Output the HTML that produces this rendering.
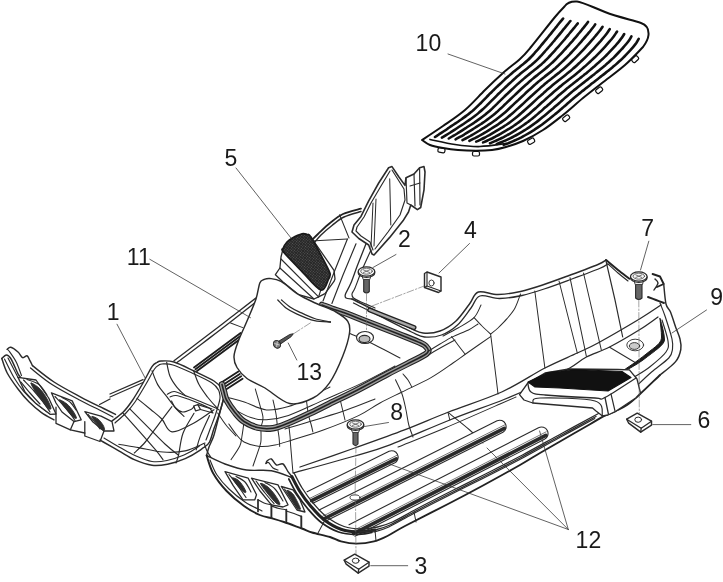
<!DOCTYPE html>
<html><head><meta charset="utf-8"><title>Parts diagram</title>
<style>
html,body{margin:0;padding:0;background:#fff;}
svg{display:block;filter:blur(0.35px);font-family:"Liberation Sans",Arial,sans-serif;fill:#1a1a1a;}
svg path, svg line, svg polygon, svg ellipse {stroke-linecap:round;stroke-linejoin:round;}
</style></head><body>
<svg width="723" height="582" viewBox="0 0 723 582">
<rect x="0" y="0" width="723" height="582" fill="#ffffff" stroke="none"/>
<rect x="438.0" y="148" width="7" height="4.5" rx="1.5" fill="#fff" stroke="#111" stroke-width="1.2" transform="rotate(10 441.5 150)"/>
<rect x="472.5" y="151.5" width="7" height="4.5" rx="1.5" fill="#fff" stroke="#111" stroke-width="1.2" transform="rotate(0 476 153.5)"/>
<rect x="527.5" y="139" width="7" height="4.5" rx="1.5" fill="#fff" stroke="#111" stroke-width="1.2" transform="rotate(-30 531 141)"/>
<rect x="562.5" y="116" width="7" height="4.5" rx="1.5" fill="#fff" stroke="#111" stroke-width="1.2" transform="rotate(-38 566 118)"/>
<rect x="595.5" y="88" width="7" height="4.5" rx="1.5" fill="#fff" stroke="#111" stroke-width="1.2" transform="rotate(-38 599 90)"/>
<rect x="631.5" y="57" width="7" height="4.5" rx="1.5" fill="#fff" stroke="#111" stroke-width="1.2" transform="rotate(-42 635 59)"/>
<path d="M422,140 C425.5,137.7 435.8,131 443,126 C450.2,121 458,116 465,110 C472,104 478.7,96.2 485,90 C491.3,83.8 497.2,78.2 503,73 C508.8,67.8 515.3,63.3 520,59 C524.7,54.7 525.2,54 531,47 C536.8,40 549.4,23.8 555,17 C560.6,10.2 562.9,8.2 564.5,6.5 C567,3 571,1 577,1.5 C582,2 590,6 605,12 C618,17 632,20 641,23 C647,25 649,29 648.5,35 C648,40 646,43 643,47 C640,50 631.8,59 625,65 C618.2,71 609,77.5 602,83 C595,88.5 589.5,92.7 583,98 C576.5,103.3 569.7,109.7 563,115 C556.3,120.3 549.7,125.7 543,130 C536.3,134.3 529.2,138.2 523,141 C516.8,143.8 511.2,145.5 506,147 C500.8,148.5 497,149.4 492,150 C487,150.6 481.7,150.8 476,150.8 C470.3,150.8 463.5,150.5 458,150 C452.5,149.5 447.7,148.8 443,148 C438.3,147.2 433.5,146.3 430,145 C426.5,143.7 423.3,140.8 422,140Z" fill="#fff" stroke="#111" stroke-width="2"/>
<path d="M435,137 C435.7,136.5 437.8,135.2 439.2,134.2 C440.6,133.3 442,132.4 443.4,131.5 C444.8,130.6 446.2,129.7 447.6,128.7 C449,127.8 450.3,126.8 451.7,125.9 C453.1,125 454.5,124 455.9,123.1 C457.3,122.2 458.7,121.2 460,120.3 C461.4,119.3 462.8,118.4 464.1,117.4 C465.5,116.4 466.8,115.4 468.2,114.4 C469.5,113.4 470.8,112.4 472.1,111.3 C473.3,110.2 474.6,109.1 475.8,107.9 C477,106.8 478.2,105.6 479.4,104.4 C480.6,103.3 481.7,102.1 482.9,100.9 C484.1,99.7 485.2,98.5 486.4,97.3 C487.6,96.1 488.7,94.9 489.9,93.7 C491.1,92.5 492.3,91.4 493.5,90.2 C494.7,89.1 495.9,87.9 497.1,86.7 C498.3,85.6 499.5,84.4 500.8,83.3 C502,82.1 503.2,81 504.4,79.9 C505.6,78.7 506.9,77.6 508.1,76.5 C509.4,75.4 510.6,74.3 511.9,73.2 C513.2,72.1 514.5,71.1 515.8,70 C517.1,69 518.4,68 519.7,66.9 C521,65.9 522.3,64.8 523.6,63.8 C524.9,62.7 526.2,61.6 527.4,60.5 C528.7,59.4 529.9,58.2 531,57 C532.2,55.8 533.3,54.6 534.4,53.3 C535.5,52.1 536.6,50.8 537.7,49.6 C538.8,48.3 539.9,47 540.9,45.7 C542,44.5 543.1,43.2 544.1,41.9 C545.2,40.6 546.3,39.3 547.3,38 C548.4,36.7 549.4,35.4 550.5,34.1 C551.5,32.8 552.6,31.5 553.6,30.2 C554.7,28.9 555.7,27.6 556.8,26.3 C557.8,25 558.8,23.7 559.9,22.4 C561,21.1 562.6,19.2 563.1,18.5" fill="none" stroke="#111" stroke-width="2.59" />
<path d="M441.9,137.7 C442.6,137.3 444.7,136 446.1,135.1 C447.5,134.3 449,133.4 450.4,132.5 C451.8,131.6 453.1,130.7 454.5,129.8 C455.9,128.9 457.3,128 458.7,127 C460.1,126.1 461.5,125.2 462.9,124.3 C464.2,123.4 465.6,122.5 467,121.5 C468.4,120.6 469.8,119.6 471.1,118.7 C472.5,117.7 473.8,116.7 475.1,115.7 C476.5,114.7 477.8,113.7 479,112.6 C480.3,111.5 481.6,110.4 482.8,109.3 C484,108.2 485.2,107 486.4,105.9 C487.6,104.7 488.8,103.5 489.9,102.4 C491.1,101.2 492.3,100 493.5,98.8 C494.6,97.7 495.8,96.5 497,95.3 C498.2,94.1 499.4,93 500.6,91.8 C501.8,90.7 503,89.5 504.2,88.4 C505.4,87.2 506.6,86.1 507.8,85 C509,83.8 510.3,82.7 511.5,81.6 C512.7,80.4 513.9,79.3 515.2,78.2 C516.4,77.1 517.7,76 519,75 C520.2,73.9 521.5,72.8 522.8,71.8 C524.1,70.8 525.5,69.7 526.8,68.7 C528.1,67.7 529.4,66.7 530.7,65.6 C531.9,64.5 533.2,63.4 534.5,62.3 C535.7,61.2 536.9,60.1 538.1,58.9 C539.3,57.8 540.4,56.5 541.5,55.3 C542.6,54.1 543.7,52.9 544.8,51.6 C545.9,50.4 547,49.1 548.1,47.9 C549.2,46.6 550.3,45.4 551.4,44.1 C552.4,42.8 553.5,41.6 554.6,40.3 C555.6,39 556.7,37.7 557.8,36.4 C558.8,35.2 559.9,33.9 560.9,32.6 C562,31.3 563,30 564.1,28.7 C565.1,27.4 566.2,26.1 567.2,24.9 C568.3,23.6 569.9,21.6 570.4,21" fill="none" stroke="#111" stroke-width="2.59" />
<path d="M448.8,138.5 C449.5,138.1 451.6,136.9 453,136 C454.5,135.2 455.9,134.4 457.3,133.5 C458.7,132.6 460.1,131.8 461.5,130.9 C462.9,130 464.3,129.1 465.7,128.2 C467,127.3 468.4,126.4 469.8,125.5 C471.2,124.6 472.6,123.7 474,122.8 C475.4,121.8 476.7,120.9 478.1,119.9 C479.4,119 480.8,118 482.1,117 C483.4,116 484.7,115 486,113.9 C487.3,112.9 488.5,111.8 489.8,110.7 C491,109.6 492.2,108.5 493.4,107.3 C494.6,106.2 495.8,105 497,103.9 C498.2,102.7 499.3,101.5 500.5,100.4 C501.7,99.2 502.9,98 504.1,96.9 C505.2,95.7 506.5,94.6 507.7,93.5 C508.9,92.3 510.1,91.2 511.3,90 C512.5,88.9 513.7,87.8 514.9,86.6 C516.1,85.5 517.3,84.4 518.6,83.3 C519.8,82.2 521,81.1 522.3,80 C523.5,78.9 524.8,77.8 526,76.7 C527.3,75.7 528.6,74.6 529.9,73.6 C531.2,72.6 532.5,71.5 533.8,70.5 C535.1,69.5 536.4,68.5 537.7,67.4 C539,66.4 540.2,65.3 541.5,64.2 C542.7,63.1 544,62 545.1,60.8 C546.3,59.7 547.5,58.5 548.6,57.3 C549.7,56.1 550.9,54.9 552,53.7 C553.1,52.4 554.2,51.2 555.3,50 C556.4,48.8 557.5,47.5 558.6,46.3 C559.7,45.1 560.8,43.8 561.9,42.5 C562.9,41.3 564,40 565.1,38.8 C566.1,37.5 567.2,36.2 568.3,35 C569.3,33.7 570.4,32.4 571.4,31.1 C572.5,29.9 573.5,28.6 574.6,27.3 C575.6,26 577.2,24.1 577.7,23.4" fill="none" stroke="#111" stroke-width="2.59" />
<path d="M455.6,139.3 C456.4,138.9 458.5,137.7 459.9,136.9 C461.4,136.1 462.8,135.3 464.2,134.5 C465.6,133.7 467,132.8 468.4,131.9 C469.8,131.1 471.2,130.2 472.6,129.3 C474,128.4 475.4,127.6 476.8,126.7 C478.2,125.8 479.6,124.9 481,124 C482.3,123.1 483.7,122.2 485.1,121.2 C486.4,120.3 487.8,119.3 489.1,118.3 C490.4,117.3 491.7,116.3 493,115.3 C494.3,114.2 495.5,113.2 496.8,112.1 C498,111 499.2,109.9 500.4,108.7 C501.6,107.6 502.8,106.5 504,105.3 C505.2,104.2 506.4,103.1 507.6,101.9 C508.7,100.8 509.9,99.6 511.1,98.5 C512.3,97.3 513.5,96.2 514.7,95.1 C515.9,93.9 517.1,92.8 518.3,91.7 C519.5,90.6 520.8,89.4 522,88.3 C523.2,87.2 524.4,86.1 525.6,85 C526.9,83.9 528.1,82.8 529.3,81.7 C530.6,80.6 531.8,79.5 533.1,78.5 C534.4,77.4 535.7,76.4 537,75.4 C538.3,74.3 539.6,73.3 540.9,72.3 C542.2,71.3 543.5,70.3 544.7,69.2 C546,68.2 547.3,67.1 548.5,66 C549.8,65 551,63.9 552.2,62.7 C553.4,61.6 554.5,60.4 555.7,59.3 C556.9,58.1 558,56.9 559.1,55.7 C560.3,54.5 561.4,53.3 562.5,52.1 C563.6,50.9 564.7,49.7 565.8,48.5 C566.9,47.3 568,46 569.1,44.8 C570.2,43.6 571.3,42.3 572.4,41.1 C573.5,39.8 574.5,38.6 575.6,37.3 C576.7,36.1 577.7,34.8 578.8,33.5 C579.8,32.3 580.9,31 581.9,29.7 C583,28.4 584,27.2 585,25.9 C586.1,24.6 587.5,22.6 588,21.9" fill="none" stroke="#111" stroke-width="2.59" />
<path d="M462.5,140.1 C463.2,139.7 465.4,138.6 466.8,137.8 C468.3,137 469.7,136.3 471.1,135.5 C472.6,134.7 474,133.9 475.4,133 C476.8,132.2 478.2,131.3 479.6,130.5 C481,129.6 482.4,128.7 483.8,127.9 C485.2,127 486.6,126.1 487.9,125.2 C489.3,124.3 490.7,123.4 492,122.5 C493.4,121.5 494.7,120.6 496.1,119.6 C497.4,118.7 498.7,117.7 500,116.6 C501.2,115.6 502.5,114.5 503.7,113.5 C505,112.4 506.2,111.3 507.4,110.2 C508.6,109.1 509.8,107.9 511,106.8 C512.2,105.7 513.4,104.6 514.6,103.4 C515.8,102.3 517,101.2 518.2,100.1 C519.4,98.9 520.6,97.8 521.8,96.7 C523,95.6 524.2,94.5 525.4,93.3 C526.6,92.2 527.8,91.1 529,90 C530.3,88.9 531.5,87.8 532.7,86.7 C533.9,85.6 535.2,84.5 536.4,83.4 C537.7,82.4 538.9,81.3 540.2,80.3 C541.4,79.2 542.7,78.2 544,77.2 C545.3,76.1 546.6,75.1 547.9,74.1 C549.2,73.1 550.5,72.1 551.8,71.1 C553,70 554.3,69 555.6,67.9 C556.8,66.8 558,65.7 559.2,64.6 C560.5,63.5 561.6,62.4 562.8,61.2 C564,60.1 565.1,58.9 566.3,57.8 C567.4,56.6 568.6,55.4 569.7,54.3 C570.8,53.1 572,51.9 573.1,50.7 C574.2,49.5 575.3,48.3 576.4,47.1 C577.5,45.9 578.6,44.6 579.7,43.4 C580.8,42.2 581.8,40.9 582.9,39.7 C584,38.5 585.1,37.2 586.1,35.9 C587.2,34.7 588.2,33.4 589.3,32.2 C590.3,30.9 591.4,29.6 592.4,28.3 C593.4,27 594.8,25 595.2,24.3" fill="none" stroke="#111" stroke-width="2.59" />
<path d="M469.4,140.9 C470.1,140.5 472.3,139.4 473.7,138.7 C475.2,138 476.6,137.2 478.1,136.5 C479.5,135.7 480.9,134.9 482.3,134.1 C483.8,133.3 485.1,132.4 486.6,131.6 C488,130.8 489.4,129.9 490.7,129 C492.1,128.2 493.5,127.3 494.9,126.4 C496.3,125.6 497.7,124.7 499,123.7 C500.4,122.8 501.7,121.9 503,120.9 C504.4,120 505.7,119 506.9,118 C508.2,116.9 509.5,115.9 510.7,114.8 C512,113.8 513.2,112.7 514.4,111.6 C515.6,110.5 516.8,109.4 518.1,108.3 C519.3,107.2 520.5,106.1 521.7,105 C522.9,103.9 524.1,102.8 525.3,101.6 C526.5,100.5 527.7,99.4 528.9,98.3 C530.1,97.2 531.3,96.1 532.5,95 C533.7,93.9 534.9,92.8 536.1,91.7 C537.3,90.6 538.5,89.5 539.8,88.4 C541,87.3 542.2,86.2 543.5,85.2 C544.7,84.1 546,83.1 547.2,82 C548.5,81 549.8,80 551.1,79 C552.4,77.9 553.7,76.9 554.9,75.9 C556.2,74.9 557.5,73.9 558.8,72.9 C560.1,71.8 561.3,70.8 562.6,69.7 C563.8,68.7 565.1,67.6 566.3,66.5 C567.5,65.4 568.7,64.3 569.9,63.2 C571.1,62.1 572.2,60.9 573.4,59.8 C574.6,58.7 575.7,57.5 576.9,56.4 C578,55.2 579.2,54.1 580.3,52.9 C581.4,51.7 582.6,50.5 583.7,49.3 C584.8,48.2 585.9,46.9 587,45.7 C588.1,44.5 589.2,43.3 590.2,42.1 C591.3,40.8 592.4,39.6 593.5,38.4 C594.5,37.1 595.6,35.9 596.6,34.6 C597.7,33.3 598.7,32.1 599.7,30.8 C600.7,29.4 602,27.4 602.5,26.8" fill="none" stroke="#111" stroke-width="2.59" />
<path d="M476.2,141.6 C477,141.3 479.2,140.3 480.6,139.6 C482.1,138.9 483.6,138.2 485,137.5 C486.4,136.7 487.9,135.9 489.3,135.2 C490.7,134.4 492.1,133.5 493.5,132.7 C494.9,131.9 496.3,131.1 497.7,130.2 C499.1,129.4 500.5,128.5 501.9,127.7 C503.3,126.8 504.6,125.9 506,125 C507.3,124.1 508.7,123.2 510,122.2 C511.3,121.3 512.6,120.3 513.9,119.3 C515.2,118.3 516.5,117.3 517.7,116.2 C519,115.2 520.2,114.1 521.4,113 C522.7,112 523.9,110.9 525.1,109.8 C526.3,108.7 527.5,107.6 528.7,106.5 C529.9,105.4 531.1,104.3 532.3,103.2 C533.5,102.1 534.7,101 535.9,99.9 C537.1,98.8 538.3,97.7 539.6,96.6 C540.8,95.5 542,94.4 543.2,93.4 C544.4,92.3 545.6,91.2 546.8,90.1 C548.1,89 549.3,88 550.6,86.9 C551.8,85.9 553.1,84.8 554.3,83.8 C555.6,82.8 556.9,81.8 558.1,80.7 C559.4,79.7 560.7,78.7 562,77.7 C563.3,76.7 564.6,75.7 565.8,74.7 C567.1,73.7 568.4,72.6 569.6,71.6 C570.9,70.5 572.1,69.5 573.3,68.4 C574.6,67.4 575.8,66.3 577,65.2 C578.2,64.1 579.3,63 580.5,61.9 C581.7,60.7 582.9,59.6 584.1,58.5 C585.2,57.4 586.4,56.2 587.5,55.1 C588.7,54 589.8,52.8 590.9,51.6 C592.1,50.4 593.2,49.3 594.3,48.1 C595.4,46.9 596.5,45.7 597.6,44.4 C598.7,43.2 599.7,42 600.8,40.8 C601.9,39.5 602.9,38.3 604,37 C605,35.8 606,34.5 607,33.2 C608,31.9 609.3,29.8 609.7,29.2" fill="none" stroke="#111" stroke-width="2.59" />
<path d="M483.1,142.4 C483.8,142.1 486.1,141.2 487.5,140.5 C489,139.8 490.5,139.2 491.9,138.5 C493.4,137.7 494.8,137 496.2,136.2 C497.7,135.5 499.1,134.7 500.5,133.9 C501.9,133.1 503.3,132.3 504.7,131.4 C506.1,130.6 507.5,129.8 508.9,128.9 C510.2,128 511.6,127.2 513,126.3 C514.3,125.4 515.7,124.5 517,123.5 C518.3,122.6 519.6,121.6 520.9,120.6 C522.2,119.6 523.5,118.6 524.7,117.6 C526,116.6 527.2,115.5 528.4,114.5 C529.7,113.4 530.9,112.3 532.1,111.3 C533.3,110.2 534.5,109.1 535.8,108.1 C537,107 538.2,105.9 539.4,104.8 C540.6,103.7 541.8,102.6 543,101.6 C544.2,100.5 545.4,99.4 546.6,98.3 C547.8,97.2 549,96.1 550.3,95 C551.5,94 552.7,92.9 553.9,91.8 C555.1,90.8 556.4,89.7 557.6,88.7 C558.9,87.6 560.1,86.6 561.4,85.6 C562.7,84.5 563.9,83.5 565.2,82.5 C566.5,81.5 567.8,80.5 569,79.5 C570.3,78.5 571.6,77.5 572.9,76.5 C574.1,75.5 575.4,74.5 576.7,73.4 C577.9,72.4 579.2,71.4 580.4,70.3 C581.6,69.3 582.8,68.2 584.1,67.1 C585.3,66.1 586.5,65 587.7,63.9 C588.9,62.8 590.1,61.7 591.2,60.6 C592.4,59.5 593.6,58.4 594.8,57.3 C595.9,56.2 597.1,55 598.2,53.9 C599.4,52.7 600.5,51.6 601.6,50.4 C602.7,49.2 603.8,48 604.9,46.8 C606,45.6 607.1,44.4 608.1,43.2 C609.2,41.9 610.3,40.7 611.3,39.5 C612.3,38.2 613.4,37 614.3,35.6 C615.3,34.3 616.5,32.2 617,31.6" fill="none" stroke="#111" stroke-width="2.59" />
<path d="M490,143.2 C490.7,142.9 493,142 494.4,141.4 C495.9,140.8 497.4,140.1 498.8,139.4 C500.3,138.8 501.8,138 503.2,137.3 C504.6,136.6 506,135.8 507.4,135 C508.9,134.2 510.3,133.4 511.7,132.6 C513.1,131.8 514.5,131 515.8,130.1 C517.2,129.3 518.6,128.4 519.9,127.6 C521.3,126.7 522.6,125.8 524,124.8 C525.3,123.9 526.6,122.9 527.9,122 C529.2,121 530.4,120 531.7,119 C533,118 534.2,116.9 535.4,115.9 C536.7,114.9 537.9,113.8 539.1,112.8 C540.4,111.7 541.6,110.7 542.8,109.6 C544,108.5 545.2,107.5 546.5,106.4 C547.7,105.3 548.9,104.3 550.1,103.2 C551.3,102.1 552.5,101 553.7,99.9 C554.9,98.9 556.1,97.8 557.3,96.7 C558.5,95.6 559.8,94.6 561,93.5 C562.2,92.5 563.5,91.4 564.7,90.4 C565.9,89.4 567.2,88.3 568.5,87.3 C569.7,86.3 571,85.3 572.3,84.3 C573.5,83.3 574.8,82.3 576.1,81.3 C577.4,80.3 578.6,79.3 579.9,78.3 C581.2,77.3 582.4,76.3 583.7,75.3 C584.9,74.3 586.2,73.3 587.4,72.2 C588.7,71.2 589.9,70.2 591.1,69.1 C592.4,68.1 593.6,67 594.8,66 C596,64.9 597.2,63.8 598.4,62.8 C599.6,61.7 600.8,60.6 602,59.5 C603.2,58.4 604.3,57.3 605.5,56.1 C606.6,55 607.8,53.9 608.9,52.7 C610,51.5 611.1,50.4 612.2,49.2 C613.3,48 614.4,46.8 615.5,45.6 C616.5,44.4 617.6,43.2 618.7,41.9 C619.7,40.7 620.7,39.4 621.6,38.1 C622.6,36.8 623.8,34.7 624.2,34" fill="none" stroke="#111" stroke-width="2.59" />
<path d="M496.8,144 C497.6,143.7 499.8,142.9 501.3,142.3 C502.8,141.7 504.3,141.1 505.8,140.4 C507.2,139.8 508.7,139.1 510.1,138.4 C511.6,137.7 513,136.9 514.4,136.1 C515.8,135.4 517.2,134.6 518.6,133.8 C520,133 521.4,132.2 522.8,131.4 C524.2,130.5 525.6,129.7 526.9,128.8 C528.3,127.9 529.6,127.1 530.9,126.1 C532.3,125.2 533.6,124.3 534.9,123.3 C536.2,122.3 537.4,121.4 538.7,120.4 C540,119.4 541.2,118.4 542.4,117.3 C543.7,116.3 544.9,115.3 546.2,114.2 C547.4,113.2 548.6,112.2 549.9,111.1 C551.1,110.1 552.3,109 553.5,108 C554.7,106.9 555.9,105.9 557.2,104.8 C558.4,103.7 559.6,102.7 560.8,101.6 C562,100.5 563.2,99.5 564.4,98.4 C565.6,97.3 566.8,96.3 568.1,95.2 C569.3,94.2 570.5,93.2 571.8,92.1 C573,91.1 574.3,90.1 575.5,89.1 C576.8,88.1 578.1,87.1 579.3,86.1 C580.6,85.1 581.9,84.1 583.1,83.1 C584.4,82.1 585.7,81.1 586.9,80.1 C588.2,79.1 589.5,78.1 590.7,77.1 C592,76.1 593.2,75.1 594.5,74.1 C595.7,73.1 597,72.1 598.2,71.1 C599.5,70.1 600.7,69 601.9,68 C603.2,67 604.4,65.9 605.6,64.9 C606.8,63.8 608,62.8 609.2,61.7 C610.4,60.6 611.6,59.5 612.8,58.4 C613.9,57.3 615.1,56.2 616.2,55 C617.3,53.9 618.4,52.7 619.5,51.5 C620.7,50.4 621.7,49.2 622.8,48 C623.9,46.8 625,45.6 626,44.3 C627,43.1 628.1,41.8 629,40.5 C629.9,39.2 631,37.1 631.4,36.4" fill="none" stroke="#111" stroke-width="2.59" />
<path d="M503.7,144.8 C504.5,144.5 506.7,143.7 508.2,143.2 C509.7,142.6 511.2,142 512.7,141.4 C514.2,140.8 515.6,140.1 517.1,139.4 C518.5,138.8 520,138 521.4,137.3 C522.8,136.5 524.2,135.8 525.6,135 C527,134.2 528.4,133.4 529.8,132.6 C531.2,131.8 532.5,130.9 533.9,130.1 C535.3,129.2 536.6,128.3 537.9,127.4 C539.2,126.5 540.5,125.6 541.8,124.7 C543.1,123.7 544.4,122.7 545.7,121.7 C546.9,120.8 548.2,119.8 549.5,118.8 C550.7,117.8 552,116.7 553.2,115.7 C554.4,114.7 555.7,113.7 556.9,112.7 C558.1,111.7 559.4,110.6 560.6,109.6 C561.8,108.5 563,107.5 564.2,106.4 C565.4,105.4 566.6,104.3 567.8,103.2 C569,102.2 570.3,101.1 571.5,100.1 C572.7,99 573.9,98 575.1,97 C576.4,95.9 577.6,94.9 578.8,93.9 C580.1,92.9 581.3,91.9 582.6,90.9 C583.9,89.9 585.1,88.9 586.4,87.9 C587.6,86.9 588.9,85.9 590.2,84.9 C591.4,83.9 592.7,83 594,82 C595.2,81 596.5,80 597.8,79 C599,78 600.3,77 601.5,76 C602.8,75 604.1,74 605.3,73.1 C606.6,72.1 607.8,71.1 609.1,70.1 C610.3,69 611.6,68 612.8,67 C614,66 615.3,65 616.5,63.9 C617.7,62.8 618.9,61.8 620,60.7 C621.2,59.6 622.4,58.5 623.5,57.3 C624.6,56.2 625.8,55.1 626.9,53.9 C628,52.8 629.1,51.6 630.2,50.4 C631.2,49.2 632.3,48 633.3,46.8 C634.4,45.5 635.4,44.3 636.3,43 C637.2,41.6 638.3,39.5 638.7,38.8" fill="none" stroke="#111" stroke-width="2.59" />
<path d="M430,139.5 C434.2,140.3 446.7,143.3 455,144.5 C463.3,145.7 471.5,146.7 480,146.5 C488.5,146.3 501.7,144 506,143.5" fill="none" stroke="#111" stroke-width="1.74" />
<path d="M7.2,349.4 C7.8,349 9,346.9 10.8,347.3 C12.6,347.7 16,350.3 18,352 C20,353.7 21.1,357 22.6,357.6 C24.1,358.2 25.8,355.4 27,355.8 C28.2,356.2 28.9,358.7 29.8,360.3 C30.7,361.9 32,364.8 32.5,365.7" fill="none" stroke="#2b2b2b" stroke-width="1.45" />
<path d="M1.8,358.5 C2.5,357.9 4.8,354.9 6.3,354.9 C7.8,354.9 8.9,355.4 10.8,358.5 C12.8,361.6 16.3,370.7 18,373.8 C19.7,376.9 20.3,376.8 20.8,377.4" fill="none" stroke="#2b2b2b" stroke-width="1.45" />
<path d="M7.2,349.4 C7.5,349.7 7.5,348.9 9,351 C10.5,353.1 14.1,357.9 16.2,362 C18.3,366.1 20.6,373.2 21.5,375.5" fill="none" stroke="#2b2b2b" stroke-width="1.16" />
<path d="M1.8,358.5 C2.7,360.9 4.5,367.9 7.2,373 C9.9,378.1 14.4,384.2 18,389 C21.6,393.8 25,397.9 28.9,401.8 C32.8,405.7 37.3,409.6 41.5,412.6 C45.7,415.6 51.9,418.6 54,419.8" fill="none" stroke="#2b2b2b" stroke-width="1.45" />
<path d="M4.5,359 C6.2,362.2 11.2,373 14.4,378.3 C17.6,383.6 19.9,386.8 23.5,391 C27.1,395.2 31.5,399.7 36,403.6 C40.5,407.5 48.1,412.6 50.5,414.4" fill="none" stroke="#2b2b2b" stroke-width="1.16" />
<path d="M8,358 L18,377.4" fill="none" stroke="#2b2b2b" stroke-width="1.16" />
<path d="M32.5,365.7 C36.1,368.4 45.9,376.7 54,382 C62.1,387.3 73.4,393.1 81.2,397.3 C89,401.5 95.3,404.4 101,407.2 C106.7,410 113.1,413.2 115.5,414.4" fill="none" stroke="#2b2b2b" stroke-width="1.45" />
<path d="M30.5,368 C34.1,370.8 43.8,379.2 52,384.5 C60.2,389.8 71.6,395.8 79.5,400 C87.4,404.2 93.9,407.2 99.5,410 C105.1,412.8 110.8,415.8 113,417" fill="none" stroke="#2b2b2b" stroke-width="1.3" />
<path d="M18,377.4 L36,380 L48.7,398 L56,414 L50.5,414.4 L36,403.6 L25,392Z" fill="#fff" stroke="#2b2b2b" stroke-width="1.3" />
<path d="M31,383 C31.7,382.5 36.5,385.7 39,388 C41.5,390.3 44,393.7 46,397 C48,400.3 50.8,406.2 51,408 C51.2,409.8 49.2,409.5 47.5,408 C45.8,406.5 43.1,401.8 41,399 C38.9,396.2 36.7,393.7 35,391 C33.3,388.3 30.3,383.5 31,383Z" fill="#2e2e2e" stroke="#2e2e2e" stroke-width="0.87" />
<path d="M23.5,380 C25.2,381.8 30.8,387.3 34,391 C37.2,394.7 40.3,398.5 43,402 C45.7,405.5 48.8,410.3 50,412" fill="none" stroke="#2b2b2b" stroke-width="1.16" />
<path d="M21,382 C22.5,383.8 26.8,389.3 30,393 C33.2,396.7 38.3,402.2 40,404" fill="none" stroke="#2b2b2b" stroke-width="1.16" />
<path d="M27,379.5 C29,380.3 35.7,381.9 39,384.5 C42.3,387.1 45.7,393.2 47,395" fill="none" stroke="#2b2b2b" stroke-width="1.16" />
<path d="M51.4,392.8 L72.2,400.9 L81.2,419.8 L74,421.6 L62,412 L56,403Z" fill="#fff" stroke="#2b2b2b" stroke-width="1.3" />
<path d="M59.5,400 C59.5,399 64.8,402.2 67,404 C69.2,405.8 71.4,408.7 73,411 C74.6,413.3 76.5,417 76.5,418 C76.5,419 74.6,418.3 73,417 C71.4,415.7 69.2,412.8 67,410 C64.8,407.2 59.5,401 59.5,400Z" fill="#2e2e2e" stroke="#2e2e2e" stroke-width="0.87" />
<path d="M55,396.5 C56.3,397.9 60.5,402.2 63,405 C65.5,407.8 68,410.9 70,413.5 C72,416.1 74.2,419.3 75,420.5" fill="none" stroke="#2b2b2b" stroke-width="1.16" />
<path d="M62,397.5 C63.4,398.3 68.2,400.4 70.5,402.5 C72.8,404.6 75.1,408.8 76,410" fill="none" stroke="#2b2b2b" stroke-width="1.16" />
<path d="M84.8,411.7 L101,416.2 L112,421.6 L114,431 L104,431 L93,422Z" fill="#fff" stroke="#2b2b2b" stroke-width="1.3" />
<path d="M92,416.5 C92.3,415.9 96.2,417.6 98,419 C99.8,420.4 101.9,423.2 103,425 C104.1,426.8 104.8,429.3 104.5,430 C104.2,430.7 102.4,430.2 101,429 C99.6,427.8 97.5,424.6 96,422.5 C94.5,420.4 91.7,417.1 92,416.5Z" fill="#2e2e2e" stroke="#2e2e2e" stroke-width="0.87" />
<path d="M88,414.5 C89,415.6 92,418.6 94,421 C96,423.4 99,427.7 100,429" fill="none" stroke="#2b2b2b" stroke-width="1.16" />
<path d="M56,407.2 L56,423.4 L70.4,429.8 L74,421.6" fill="none" stroke="#2b2b2b" stroke-width="1.3" />
<path d="M70.4,429.8 L84.8,433" fill="none" stroke="#2b2b2b" stroke-width="1.3" />
<path d="M84.8,421.6 L84.8,436 L100,441.5 L104,431" fill="none" stroke="#2b2b2b" stroke-width="1.3" />
<path d="M100,440 C100.5,440.3 100.2,440.2 103.3,442 C106.4,443.8 113.6,447.9 118.8,450.9 C124,453.8 128.8,457.3 134.3,459.7 C139.8,462.1 146.5,464.6 152,465.3 C157.5,466.1 162,465.3 167.5,464.2 C173,463.1 179.7,461 185.2,458.6 C190.7,456.2 196.5,452.6 200.6,449.8 C204.7,447 208,443.3 209.5,442" fill="none" stroke="#2b2b2b" stroke-width="1.45" />
<path d="M104,438 C106.7,439.6 114.8,444.6 120,447.5 C125.2,450.4 129.7,453.2 135,455.5 C140.3,457.8 146.7,460.7 152,461.5 C157.3,462.3 161.7,461.6 167,460.5 C172.3,459.4 178.8,457.2 184,455 C189.2,452.8 194.3,449.6 198,447 C201.7,444.4 204.7,440.8 206,439.5" fill="none" stroke="#2b2b2b" stroke-width="1.16" />
<path d="M174,360.8 C178.3,357.5 190.7,348.1 200,341 C209.3,333.9 219.9,325.8 230,318 C240.1,310.2 254.2,299.4 260.5,294.4 C266.8,289.4 266.8,289.1 268,288" fill="none" stroke="#2b2b2b" stroke-width="1.3" />
<path d="M177,362.5 C181.3,359.2 193.7,350.1 203,343 C212.3,335.9 223,327.8 233,320 C243,312.2 258,300.4 263,296.5" fill="none" stroke="#2b2b2b" stroke-width="1.3" />
<path d="M194,367.5 L240.6,333" fill="none" stroke="#1c1c1c" stroke-width="1.81" />
<path d="M195.5,369.3 L242.1,334.8" fill="none" stroke="#1c1c1c" stroke-width="1.81" />
<path d="M197,371.1 L243.6,336.6" fill="none" stroke="#1c1c1c" stroke-width="1.81" />
<path d="M220.6,383 L238.4,371.5" fill="none" stroke="#1c1c1c" stroke-width="1.81" />
<path d="M222,385.4 L239.8,373.9" fill="none" stroke="#1c1c1c" stroke-width="1.81" />
<path d="M223.4,387.8 L241.2,376.3" fill="none" stroke="#1c1c1c" stroke-width="1.81" />
<path d="M224.8,390.2 L242.6,378.7" fill="none" stroke="#1c1c1c" stroke-width="1.81" />
<path d="M230.6,323 L242.8,327.6" fill="none" stroke="#2b2b2b" stroke-width="1.01" />
<path d="M110,394 L143,379.6" fill="none" stroke="#2b2b2b" stroke-width="1.3" />
<path d="M110,397 L143,382.5" fill="none" stroke="#2b2b2b" stroke-width="1.3" />
<path d="M99.6,404.5 L110,399" fill="none" stroke="#2b2b2b" stroke-width="1.3" />
<path d="M112,421 C113.9,419.5 120,415.3 123.3,412 C126.6,408.7 128.7,405.8 132,401 C135.3,396.2 139.7,388.7 143,383 C146.3,377.3 149.7,370 152,366.6 C154.3,363.2 155.5,363.4 157,362.5 C158.5,361.6 158.2,361.1 161,361 C163.8,360.9 168.5,360.3 174,362 C179.5,363.7 187.3,367.8 194,371 C200.7,374.2 209.4,378.1 214,381 C218.6,383.9 220.1,386.4 221.7,388.7 C223.3,391 223.3,392.9 223.5,395 C223.7,397.1 223.8,397.4 222.9,401 C222.1,404.6 219.9,411.8 218.4,416.4 C216.9,421 215.4,424.5 213.9,428.8 C212.4,433.1 211.1,439 209.5,442 C207.9,445 205.3,446.2 204.5,447" fill="#fff" stroke="#2b2b2b" stroke-width="1.45" />
<path d="M115,423 C116.8,421.3 122.7,416.5 126,413 C129.3,409.5 131.7,406.8 135,402 C138.3,397.2 142.8,389.5 146,384 C149.2,378.5 152.3,372.2 154.5,369 C156.7,365.8 157.8,365.8 159,365 C160.2,364.2 159.7,364 162,364 C164.3,364 167.8,363.4 173,365 C178.2,366.6 186.5,370.5 193,373.5 C199.5,376.5 207.8,380.2 212,383 C216.2,385.8 217.2,387.8 218.5,390 C219.8,392.2 219.8,394.2 220,396 C220.2,397.8 220.3,397.7 219.5,401 C218.7,404.3 216.5,411.5 215,416 C213.5,420.5 212,424 210.5,428 C209,432 206.8,438 206,440" fill="none" stroke="#2b2b2b" stroke-width="1.16" />
<path d="M167.3,394.3 C168.5,393.8 171.3,391.3 174.3,391.5 C177.3,391.7 181.2,394 185.3,395.6 C189.4,397.2 193.9,398.9 199,401 C204.1,403.1 212.5,406.5 215.8,408 C219.1,409.5 218.5,409.7 219,410" fill="none" stroke="#2b2b2b" stroke-width="1.16" />
<path d="M170,397 C171,396.8 173,395.2 176,395.5 C179,395.8 183.7,397.5 188,399 C192.3,400.5 198,402.9 202,404.6 C206,406.3 210.3,408.3 212,409" fill="none" stroke="#2b2b2b" stroke-width="1.16" />
<path d="M171.5,401 C172.2,402.2 173.8,406.2 175.6,408 C177.4,409.8 180,411.8 182.6,412 C185.2,412.2 189,410.4 190.9,409.5 C192.8,408.6 193.5,407 194,406.5" fill="none" stroke="#2b2b2b" stroke-width="1.16" />
<path d="M193.6,406 L197.8,404.6 L200.5,409.5 L195.7,410.9Z" fill="none" stroke="#2b2b2b" stroke-width="1.3" />
<path d="M197.8,404.6 L210,408.5 L213,413 L200.5,409.5" fill="none" stroke="#2b2b2b" stroke-width="1.16" />
<path d="M152,370.7 C152.9,373 155.4,380.5 157.7,384.6 C160,388.8 163,391.7 166,395.6 C169,399.5 172.6,404.5 175.6,408 C178.6,411.5 182.6,415 184,416.4" fill="none" stroke="#2b2b2b" stroke-width="1.16" />
<path d="M166.7,362.4 C167.2,364.7 168.3,372.1 170,376.3 C171.7,380.5 174.4,384.1 177,387.3 C179.6,390.5 183.9,394.2 185.3,395.6" fill="none" stroke="#2b2b2b" stroke-width="1.16" />
<path d="M193.6,370.7 C194.5,373 196.7,380.2 199,384.6 C201.3,389 204.5,393.1 207.5,397 C210.5,400.9 215.4,406.2 217,408" fill="none" stroke="#2b2b2b" stroke-width="1.16" />
<path d="M137,398.4 C139.3,400.2 146.6,406.1 150.7,409.5 C154.8,412.9 158.2,415.3 161.8,419 C165.4,422.7 166.6,431.2 172,431.9 C177.4,432.6 187,426.7 194,423 C201,419.3 210.7,411.9 214,409.7" fill="none" stroke="#2b2b2b" stroke-width="1.16" />
<path d="M123.2,413.3 C126.2,416.6 135.4,426.9 140.9,433.2 C146.4,439.5 152.7,446.5 156.4,450.9 C160.1,455.3 161.9,458.2 163,459.7" fill="none" stroke="#2b2b2b" stroke-width="1.16" />
<path d="M129.8,408.9 C133.1,412.2 143.8,422.9 149.7,428.8 C155.6,434.7 160.4,439.9 165.2,444.3 C170,448.7 176.3,453.5 178.5,455.3" fill="none" stroke="#2b2b2b" stroke-width="1.16" />
<path d="M171.9,406.6 C169.7,409.6 163,418.4 158.6,424.3 C154.2,430.2 149.4,437.2 145.3,442 C141.2,446.8 136.1,451.2 134.3,453" fill="none" stroke="#2b2b2b" stroke-width="1.16" />
<path d="M194,413.3 C192.2,416.6 185.6,426.2 183,433.2 C180.4,440.2 179.7,450.3 178.5,455.3 C177.3,460.3 176.4,461.7 176,463" fill="none" stroke="#2b2b2b" stroke-width="1.16" />
<path d="M209.5,415.5 C208,418.8 202.8,429.7 200.6,435.4 C198.4,441.1 196.9,447.4 196.2,449.8" fill="none" stroke="#2b2b2b" stroke-width="1.16" />
<path d="M118.8,444.3 C122.1,444.9 131.3,446.3 138.7,447.6 C146.1,448.9 155.2,451.4 163,452 C170.8,452.6 178.2,452.4 185.2,450.9 C192.2,449.4 201.7,444.3 205,443" fill="none" stroke="#2b2b2b" stroke-width="1.16" />
<path d="M225,394 C224.2,397 221.8,405.2 220,412 C218.2,418.8 215.8,429.2 214,435 C212.2,440.8 210.2,443.6 209,447 C207.8,450.4 207,454.1 206.6,455.5" fill="none" stroke="#2b2b2b" stroke-width="1.45" />
<path d="M204.4,444 C204.8,445.2 205.9,448.8 207,451 C208.1,453.2 210.3,456.4 211,457.5" fill="none" stroke="#2b2b2b" stroke-width="1.16" />
<path d="M228.8,424 C230,425.7 233.5,431 236,434 C238.5,437 240.1,439.9 244,442 C247.9,444.1 254.5,445.9 259.7,446.4 C264.9,446.9 269.4,446.1 275,445 C280.6,443.9 284.8,442.2 293,439.7 C301.2,437.2 313,433.9 324,429.8 C335,425.8 349.7,419.9 359,415.4 C368.3,410.9 372.8,406.9 380,403 C387.2,399.1 393.5,396.2 402,392 C410.5,387.8 422.5,382.4 431,377.6 C439.5,372.8 446.8,367.3 453,363 C459.2,358.7 462.2,356.4 468.5,352 C474.8,347.6 486.9,339.2 490.6,336.6" fill="none" stroke="#2b2b2b" stroke-width="1.01" />
<path d="M244,422 C243.7,424.3 242.7,432 242,436 C241.3,440 241.6,442.1 239.8,446 C238,449.9 232.5,457.4 231,459.7" fill="none" stroke="#2b2b2b" stroke-width="1.01" />
<path d="M260.9,427.6 C260.9,429.7 261.2,436.9 261,440 C260.8,443.1 261,442.1 259.7,446.4 C258.4,450.7 254.1,462.7 253,466" fill="none" stroke="#2b2b2b" stroke-width="1.01" />
<path d="M277.5,427.6 C277.8,429.2 278.6,433.9 279,437 C279.4,440.1 279.6,444.8 279.7,446.4" fill="none" stroke="#2b2b2b" stroke-width="1.01" />
<path d="M288.5,423 C288.8,425.2 289.6,432.1 290,436 C290.4,439.9 290.2,440.2 290.7,446.4 C291.2,452.6 292.6,468.6 293,473" fill="none" stroke="#2b2b2b" stroke-width="1.01" />
<path d="M308.4,415.4 C308.8,416.8 310.2,421.2 311,424 C311.8,426.8 312.6,430.7 312.9,432" fill="none" stroke="#2b2b2b" stroke-width="1.01" />
<path d="M340,399 L345,420" fill="none" stroke="#2b2b2b" stroke-width="1.01" />
<path d="M217.7,413 C219.1,415 222.9,421.2 226,425 C229.1,428.8 234.3,434.2 236,436" fill="none" stroke="#2b2b2b" stroke-width="1.01" />
<path d="M206.6,455.5 C209.7,456.9 218.3,461.6 225,464 C231.7,466.4 238.8,468.9 246.5,470 C254.2,471.1 263.9,469.5 271.4,470.7 C278.9,471.9 288,476.3 291.3,477.4" fill="none" stroke="#2b2b2b" stroke-width="1.45" />
<path d="M266,463.5 C266.2,463.1 266.3,461.6 267.2,460.8 C268.1,460.1 269.9,458.3 271.4,459 C272.9,459.7 274.5,464.2 276.4,465 C278.3,465.8 281.1,462.9 283,464 C284.9,465.1 286.5,469.5 288,471.6 C289.5,473.7 291.3,475.7 292,476.5" fill="none" stroke="#2b2b2b" stroke-width="1.45" />
<path d="M266,463.5 C266.4,463.3 267.3,461.8 268.5,462.5 C269.7,463.2 271.4,466.8 273,468 C274.6,469.2 277.2,469.7 278,470" fill="none" stroke="#2b2b2b" stroke-width="1.16" />
<path d="M206.6,455.5 C207.7,458.4 209.7,467.1 213,473 C216.3,478.9 221.4,485.5 226.6,491 C231.8,496.5 238.5,502 244,506 C249.5,510 254.9,512.9 259.7,515 C264.5,517.1 268.9,517.4 273,518.6 C277.1,519.8 279.2,520.4 284,522 C288.8,523.6 297.1,526.8 301.8,528.5 C306.5,530.2 307.3,531.1 312,532.5 C316.7,533.9 325.2,535.5 330,537 C334.8,538.5 336.6,540.3 341,541.4 C345.4,542.5 350.9,543.6 356.4,543.6 C361.9,543.6 368.8,542.7 374,541.4 C379.2,540.1 382.2,538.6 387.4,536 C392.6,533.4 394.7,531.4 405,526 C415.3,520.6 436,510.2 449,503.5 C462,496.8 471.2,491.9 483,485.5 C494.8,479.1 510.5,470.4 520,465 C529.5,459.6 533.3,456.9 540,453 C546.7,449.1 551.7,446.3 560,441.5 C568.3,436.7 582.5,428.5 590,424.2 C597.5,419.9 600.3,417.9 604.7,415.7 C609.1,413.4 612.6,412.5 616.3,410.7 C620,408.9 623.2,407.6 627,405 C630.8,402.4 633.5,400 639,395 C644.5,390 656.5,378.3 660,375" fill="none" stroke="#222" stroke-width="1.89" />
<path d="M210,460 C211.2,462.5 213.8,470.2 217,475 C220.2,479.8 224.3,484.5 229,489 C233.7,493.5 239.5,498.3 245,502 C250.5,505.7 259.2,509.5 262,511" fill="none" stroke="#2b2b2b" stroke-width="1.16" />
<path d="M225,471.6 L248.2,478.2 L256.5,494.8 L254.8,499.8 L243,499.8 L233.2,485.7Z" fill="#fff" stroke="#2b2b2b" stroke-width="1.3" />
<path d="M232.5,478 C232.7,477.2 236.2,478.7 238,480 C239.8,481.3 241.7,484 243,486 C244.3,488 246,491.1 246,492 C246,492.9 244.5,492.7 243,491.5 C241.5,490.3 238.8,487.2 237,485 C235.2,482.8 232.3,478.8 232.5,478Z" fill="#2e2e2e" stroke="#2e2e2e" stroke-width="0.87" />
<path d="M229,474.5 C230.5,476.4 235.2,482.2 238,486 C240.8,489.8 244.7,495.6 246,497.5" fill="none" stroke="#2b2b2b" stroke-width="1.16" />
<path d="M236,476.5 C237.5,477.4 242.5,479.4 245,482 C247.5,484.6 250,490.3 251,492" fill="none" stroke="#2b2b2b" stroke-width="1.16" />
<path d="M251.5,478.2 L278,484.9 L288,504.8 L283,507 L271.4,504.8 L260,491Z" fill="#fff" stroke="#2b2b2b" stroke-width="1.3" />
<path d="M260.5,483.5 C260.5,482.3 265.6,485.1 268,487 C270.4,488.9 273,492.2 275,495 C277,497.8 279.8,502.7 280,504 C280.2,505.3 278,504.7 276,503 C274,501.3 270.6,497.2 268,494 C265.4,490.8 260.5,484.7 260.5,483.5Z" fill="#2e2e2e" stroke="#2e2e2e" stroke-width="0.87" />
<path d="M256,481 C257.5,483 262,489.2 265,493 C268,496.8 272.5,501.8 274,503.5" fill="none" stroke="#2b2b2b" stroke-width="1.16" />
<path d="M265,482.5 C266.7,483.6 272,485.9 275,489 C278,492.1 281.7,499 283,501" fill="none" stroke="#2b2b2b" stroke-width="1.16" />
<path d="M281.3,486.5 L293,489.8 L300,500 L305,512 L297,510 L289,498Z" fill="#fff" stroke="#2b2b2b" stroke-width="1.3" />
<path d="M287,490.5 C287.2,489.6 290.8,491.8 292.5,493.5 C294.2,495.2 295.7,498.4 297,501 C298.3,503.6 300.5,507.9 300.5,509 C300.5,510.1 298.5,509.2 297,507.5 C295.5,505.8 293.2,501.8 291.5,499 C289.8,496.2 286.8,491.4 287,490.5Z" fill="#2e2e2e" stroke="#2e2e2e" stroke-width="0.87" />
<path d="M284.5,489 C285.6,490.7 288.8,495.6 291,499 C293.2,502.4 296.8,507.8 298,509.5" fill="none" stroke="#2b2b2b" stroke-width="1.16" />
<path d="M258,499.8 L258,511.4" fill="none" stroke="#2b2b2b" stroke-width="1.74" />
<path d="M271.4,504.8 L271.4,518" fill="none" stroke="#2b2b2b" stroke-width="1.89" />
<path d="M286.3,509.7 L286.3,521.4" fill="none" stroke="#2b2b2b" stroke-width="1.89" />
<path d="M301.3,516.4 L301.3,528" fill="none" stroke="#2b2b2b" stroke-width="1.89" />
<path d="M258,499.8 C259,500.3 261.8,502.2 264,503 C266.2,503.8 270.2,504.5 271.4,504.8" fill="none" stroke="#2b2b2b" stroke-width="1.16" />
<path d="M271.4,506 C272.7,506.4 276.5,507.9 279,508.5 C281.5,509.1 285.1,509.5 286.3,509.7" fill="none" stroke="#2b2b2b" stroke-width="1.16" />
<path d="M286.3,511 C287.6,511.4 291.5,512.6 294,513.5 C296.5,514.4 300.1,515.9 301.3,516.4" fill="none" stroke="#2b2b2b" stroke-width="1.16" />
<path d="M398,447 C405.8,443.8 428,435.2 445,428 C462,420.8 488.2,409.2 500,404 C511.8,398.8 513.3,398.2 516,397" fill="none" stroke="#2b2b2b" stroke-width="1.01" />
<path d="M448,412.4 L449.8,420" fill="none" stroke="#2b2b2b" stroke-width="1.01" />
<path d="M448,412.4 C451.6,415.3 463.9,424.9 469.7,430 C475.5,435.1 480.8,440.8 483,443" fill="none" stroke="#2b2b2b" stroke-width="1.01" />
<path d="M661,305 C657.4,307.3 650,312.7 639.5,319 C629,325.3 608.4,337.3 598,343 C587.6,348.7 586.1,348.8 577.3,353 C568.4,357.2 557.5,361.5 544.9,368 C532.3,374.5 517.8,384.7 501.7,392 C485.6,399.3 464.8,405.7 448.6,412 C432.4,418.3 420.1,423.9 404.5,429.9 C388.9,435.9 372.1,441.8 354.7,448 C337.3,454.2 309.1,463.8 300,467" fill="none" stroke="#2b2b2b" stroke-width="1.3" />
<path d="M658,317 C654.9,319.1 647.6,324.8 639.5,329.8 C631.4,334.8 618.5,342.5 609.6,347 C600.8,351.5 593,353.5 586.4,357 C579.8,360.5 577.6,363.5 569.8,368 C561.9,372.5 550.3,378.8 539.3,384 C528.3,389.2 518.9,393.5 504,399.5 C489.1,405.5 468.8,412.4 449.8,420 C430.8,427.6 405.9,438.8 390,444.8 C374.1,450.8 370.8,451.3 354.7,456 C338.6,460.7 303.5,470.2 293.3,473" fill="none" stroke="#2b2b2b" stroke-width="1.3" />
<path d="M285,429 C290,427.5 304.8,423.2 315,420 C325.2,416.8 336.4,413.5 346.4,410 C356.4,406.5 370.2,400.8 375,399" fill="none" stroke="#2b2b2b" stroke-width="1.01" />
<path d="M307.1,491.7 L389.1,451.2 A6.5,6.5 0 0 1 394.9,462.8 L312.9,503.3" fill="#fff" stroke="#2b2b2b" stroke-width="1.1"/>
<path d="M396.3,458.9 L311.6,500.7" fill="none" stroke="#2a2a2a" stroke-width="3.6"/>
<path d="M396.8,455.4 L310.3,498.1" fill="none" stroke="#555" stroke-width="0.8"/>
<path d="M319.1,510 L497.1,420.7 A6.5,6.5 0 0 1 502.9,432.3 L324.9,521.6" fill="#fff" stroke="#2b2b2b" stroke-width="1.1"/>
<path d="M504.3,428.4 L323.6,519" fill="none" stroke="#2a2a2a" stroke-width="3.6"/>
<path d="M504.8,424.8 L322.3,516.4" fill="none" stroke="#555" stroke-width="0.8"/>
<path d="M349,524.7 L538.5,427.7 A6.5,6.5 0 0 1 544.5,439.3 L355,536.3" fill="#fff" stroke="#2b2b2b" stroke-width="1.1"/>
<path d="M545.8,435.3 L353.6,533.7" fill="none" stroke="#2a2a2a" stroke-width="3.6"/>
<path d="M546.2,431.8 L352.3,531.1" fill="none" stroke="#555" stroke-width="0.8"/>
<path d="M291.8,476.5 C293.1,478.9 296.5,486.1 299.6,491 C302.7,495.9 306.5,501.2 310.6,506 C314.7,510.8 318.8,515.8 324,519.7 C329.2,523.6 335.8,527.5 341.6,529.5 C347.4,531.5 353.4,531.9 359,532 C364.6,532.1 372.3,530.3 375,530" fill="none" stroke="#222" stroke-width="3.08" />
<path d="M359,532 C361.7,531.7 369.8,531.2 375,530 C380.2,528.8 383.5,528 390,525 C396.5,522 404.2,517.2 414,512 C423.8,506.8 437.5,499.8 449,494 C460.5,488.2 471.2,483 483,477 C494.8,471 507.2,464.8 520,458 C532.8,451.2 547.3,442.9 560,436 C572.7,429.1 590,419.8 596,416.5" fill="none" stroke="#2b2b2b" stroke-width="1.3" />
<path d="M294.3,473.5 C295.6,475.9 299,483.1 302.1,488 C305.2,492.9 309,498.2 313.1,503 C317.2,507.8 321.3,512.8 326.5,516.7 C331.7,520.6 338.3,524.5 344.1,526.5 C349.9,528.5 355.9,528.9 361.5,529 C367.1,529.1 372.3,528.2 377.5,527 C382.7,525.8 386,525 392.5,522 C399,519 406.7,514.2 416.5,509 C426.3,503.8 440,496.8 451.5,491 C463,485.2 473.7,480 485.5,474 C497.3,468 509.7,461.8 522.5,455 C535.3,448.2 549.8,439.9 562.5,433 C575.2,426.1 592.5,416.8 598.5,413.5" fill="none" stroke="#2b2b2b" stroke-width="1.3" />
<path d="M288.8,479 C290.1,481.4 293.5,488.6 296.6,493.5 C299.7,498.4 303.5,503.7 307.6,508.5 C311.7,513.3 315.8,518.3 321,522.2 C326.2,526.1 332.8,530 338.6,532 C344.4,534 350.4,534.4 356,534.5 C361.6,534.6 369.3,532.8 372,532.5" fill="none" stroke="#222" stroke-width="1.74" />
<path d="M373.8,532 C376.3,531.2 382.3,530 388.8,527 C395.3,524 403,519.2 412.8,514 C422.6,508.8 436.3,501.8 447.8,496 C459.3,490.2 470,485 481.8,479 C493.6,473 506,466.8 518.8,460 C531.6,453.2 546.1,444.9 558.8,438 C571.5,431.1 588.8,421.8 594.8,418.5" fill="none" stroke="#2b2b2b" stroke-width="1.16" />
<path d="M375,530 L376,541" fill="none" stroke="#2b2b2b" stroke-width="1.01" />
<path d="M414,512 L416,522" fill="none" stroke="#2b2b2b" stroke-width="1.01" />
<path d="M325,520 L318,533" fill="none" stroke="#2b2b2b" stroke-width="1.01" />
<path d="M352,299 C354.3,300.2 361.3,303.7 366,306 C370.7,308.3 372.7,309.3 380,313 C387.3,316.7 402.8,324.7 410,328 C417.2,331.3 418,332.5 423,333 C428,333.5 434.5,333 440,331 C445.5,329 451.1,325.5 456,321 C460.9,316.5 465.8,308.8 469.5,304 C473.2,299.2 473.6,293.6 478.4,292 C483.1,290.4 491,294.6 498,294.5 C505,294.4 513.1,293.1 520.5,291.5 C527.9,289.9 534.5,287.7 542.6,285 C550.7,282.3 559.8,278.9 569,275.5 C578.2,272.1 591.8,267.1 598,264.5 C604.2,261.9 604.7,260.8 606,260" fill="none" stroke="#2b2b2b" stroke-width="1.45" />
<path d="M353.5,303 C355.8,304.2 362.8,307.7 367.5,310 C372.2,312.3 374.2,313.3 381.5,317 C388.8,320.7 404.3,328.7 411.5,332 C418.7,335.3 419.5,336.5 424.5,337 C429.5,337.5 436,337 441.5,335 C447,333 452.6,329.5 457.5,325 C462.4,320.5 467.3,312.8 471,308 C474.7,303.2 475.1,297.6 479.9,296 C484.6,294.4 492.5,298.6 499.5,298.5 C506.5,298.4 514.6,297.1 522,295.5 C529.4,293.9 536,291.7 544.1,289 C552.2,286.3 561.3,282.9 570.5,279.5 C579.7,276.1 593.3,271.1 599.5,268.5 C605.7,265.9 606.2,264.8 607.5,264" fill="none" stroke="#2b2b2b" stroke-width="1.3" />
<path d="M606,260 C608,261.7 614.1,266.9 618,270 C621.9,273.1 627.5,277.2 629.4,278.7" fill="none" stroke="#222" stroke-width="1.98" />
<path d="M608,264 C609.7,265.5 614.7,270.2 618,273 C621.3,275.8 626.3,279.7 628,281" fill="none" stroke="#2b2b2b" stroke-width="1.16" />
<path d="M534.8,291 L544.9,368" fill="none" stroke="#2b2b2b" stroke-width="1.01" />
<path d="M559,281 L577.3,353" fill="none" stroke="#2b2b2b" stroke-width="1.01" />
<path d="M570,277.7 L586.4,356.4" fill="none" stroke="#2b2b2b" stroke-width="1.01" />
<path d="M583.5,273 L601.3,349.8" fill="none" stroke="#2b2b2b" stroke-width="1.01" />
<path d="M606,261 L615,300 L622.7,337" fill="none" stroke="#2b2b2b" stroke-width="1.16" />
<path d="M520.5,294 C519.6,296.3 517.2,303.9 515,308 C512.8,312.1 509.8,315.4 507,318.7 C504.2,322 500.7,325.4 498,328 C495.3,330.6 491.8,333 490.6,334" fill="none" stroke="#2b2b2b" stroke-width="1.01" />
<path d="M490.6,334 C489.2,332.7 484.8,328.7 482,326 C479.2,323.3 475.3,319 474,317.6" fill="none" stroke="#2b2b2b" stroke-width="1.01" />
<path d="M490.6,334 L496,377 L498,394" fill="none" stroke="#2b2b2b" stroke-width="1.01" />
<path d="M609.6,347.3 L636,363" fill="none" stroke="#2b2b2b" stroke-width="1.01" />
<path d="M443,336 C445.5,334.7 452.8,331.1 458,328 C463.2,324.9 470.2,321.4 474,317.6 C477.8,313.8 479.8,307.1 481,305" fill="none" stroke="#2b2b2b" stroke-width="1.01" />
<path d="M652.6,274 L660,276.5 L663.7,284 L657,287" fill="none" stroke="#222" stroke-width="1.89" />
<path d="M655,279 C655.5,279.7 658.2,281.2 658,283 C657.8,284.8 654.7,288.8 654,290" fill="none" stroke="#2b2b2b" stroke-width="1.45" />
<path d="M648,297 C649.3,297.5 653.3,299 656,300 C658.7,301 662.7,302.5 664,303" fill="none" stroke="#222" stroke-width="1.89" />
<path d="M663.7,284 C664.1,287.3 664.9,299.3 666,304 C667.1,308.7 668.9,308.2 670.5,312 C672.1,315.8 674,322.5 675.6,327 C677.2,331.5 679.1,335.2 680,339 C680.9,342.8 681.5,345.7 680.8,349.5 C680.1,353.3 679.1,357.4 675.6,361.6 C672.1,365.9 662.6,372.8 660,375" fill="none" stroke="#2b2b2b" stroke-width="1.45" />
<path d="M660,303 C660.8,305.2 663,310 665,316 C667,322 670.8,333.5 672,339 C673.2,344.5 673,345.8 672.5,349 C672,352.2 672.3,354.2 668.8,358 C665.3,361.8 656.9,367.4 651.6,372 C646.3,376.6 639.4,383.3 637,385.6" fill="none" stroke="#2b2b2b" stroke-width="1.16" />
<path d="M662,320 C663,323.5 667.3,335.7 668,341 C668.7,346.3 669,347.7 666,352 C663,356.3 655.3,362.5 650,366.7 C644.7,370.9 637,375.3 634.4,377" fill="none" stroke="#2b2b2b" stroke-width="1.16" />
<path d="M660,318.6 C662,325 664.5,334 664.5,340 C664,345 656,350 643,360 C636,365 626,371 617,374 C628,368 640,359 650,351 C658,345 661.5,342 661.5,337 C661.5,331 660.5,325 660,318.6Z" fill="#1c1c1c" stroke="#1c1c1c" stroke-width="1"/>
<ellipse cx="635.2" cy="345" rx="8.4" ry="5.8" fill="#fff" stroke="#2b2b2b" stroke-width="0.9"/><ellipse cx="634.5" cy="346" rx="5.2" ry="3.4" fill="#ccc" stroke="#2b2b2b" stroke-width="0.9"/>
<path d="M519.5,394.7 L527.8,383 L545,373 L569,369 L618,369.5 L629.4,369.8 L637,379 L640.5,393 L635.7,398 L615.8,411.3 L608,415 L602.5,416 L596,411 L592.5,408 L532.8,403 L524,400Z" fill="#fff" stroke="#2b2b2b" stroke-width="1.3" />
<path d="M528,382 L548,372.5 L575,369.5 L622,371.5 L631,377.5 L608,391 L560,388 L535,387Z" fill="#111" stroke="#111" stroke-width="1.16" />
<path d="M527.8,383 C528.3,384.5 528.1,390 531,392 C533.9,394 534.3,394 545,395 C555.7,396 585,397.6 595,398 C605,398.4 598.2,400.8 605,397.5 C611.8,394.2 630.8,381.2 636,378" fill="none" stroke="#2b2b2b" stroke-width="1.3" />
<path d="M605,397.5 L608.4,414" fill="none" stroke="#2b2b2b" stroke-width="1.3" />
<path d="M611,394 L615,411" fill="none" stroke="#2b2b2b" stroke-width="1.16" />
<path d="M532.8,403 C534,402.2 529.6,398.3 540,398 C550.4,397.7 584.6,398 595,401 C605.4,404 601.2,413.5 602.5,416" fill="none" stroke="#2b2b2b" stroke-width="1.16" />
<path d="M228.8,397.7 C231.4,398.4 238,400 244.3,402 C250.6,404 259,409.1 266.4,409.9 C273.8,410.6 281.9,408.4 288.5,406.5 C295.1,404.6 299.3,402.1 306.2,398.8 C313.1,395.6 326,389 330,387" fill="none" stroke="#2b2b2b" stroke-width="1.01" />
<path d="M233.2,408.8 C236.1,410.3 245.4,415.8 250.9,417.6 C256.4,419.4 260.1,420.2 266.4,419.8 C272.7,419.4 278.9,418.7 288.5,415.4 C298.1,412.1 312.1,405.1 323.9,399.9 C335.7,394.7 347.4,390 359.3,384.4 C371.2,378.8 389.1,369.1 395,366" fill="none" stroke="#2b2b2b" stroke-width="1.01" />
<path d="M255.3,388.9 C256,391.5 258.4,399.5 259.7,404.3 C261,409.1 262.8,413.8 263,417.6 C263.2,421.4 261.3,425.4 261,427" fill="none" stroke="#2b2b2b" stroke-width="1.01" />
<path d="M273,400 C273.5,402.3 275.2,409.4 276,414 C276.8,418.6 277.2,425.3 277.5,427.6" fill="none" stroke="#2b2b2b" stroke-width="1.01" />
<path d="M306.2,398.8 L308.4,415.4" fill="none" stroke="#2b2b2b" stroke-width="1.01" />
<path d="M349,333 C353.3,335 366.5,340.8 375,345 C383.5,349.2 395.8,355.8 400,358" fill="none" stroke="#2b2b2b" stroke-width="1.01" />
<path d="M369.7,310 L414,327.6" stroke="#222" stroke-width="5" fill="none"/><path d="M369.7,310 L414,327.6" stroke="#a8a8a8" stroke-width="2.4" fill="none"/>
<path d="M222,384.4 C222.3,385.7 223.2,389.4 224,392 C224.8,394.6 224.6,396.5 226.5,400 C228.4,403.5 232.5,409.4 235.4,413 C238.3,416.6 240.3,419.1 244,421.5 C247.7,423.9 252.7,426.5 257.5,427.6 C262.3,428.7 267.8,429 273,428.2 C278.2,427.4 282.2,425.5 288.5,423 C294.8,420.5 303.2,416.5 310.6,413 C318,409.5 325.6,405.5 332.8,402 C340,398.5 344.9,396.5 354,391.8 C363.1,387.1 377.2,379.4 387.5,374 C397.8,368.6 409.6,362.8 416,359.5 C422.4,356.2 423.9,355.5 426,354 C428.1,352.5 428.4,351.8 428.4,350.5 C428.4,349.2 427.3,347.8 426,346.5 C424.7,345.2 425.2,345.1 420.6,343 C416,340.9 407.7,337.7 398.5,334 C389.3,330.3 374.2,324.5 365.3,321 C356.4,317.5 350.6,315 345,313 C339.4,311 335.8,310.1 332,308.8 C328.2,307.5 323.7,305.6 322,305" fill="none" stroke="#222" stroke-width="6.6" />
<path d="M222,384.4 C222.3,385.7 223.2,389.4 224,392 C224.8,394.6 224.6,396.5 226.5,400 C228.4,403.5 232.5,409.4 235.4,413 C238.3,416.6 240.3,419.1 244,421.5 C247.7,423.9 252.7,426.5 257.5,427.6 C262.3,428.7 267.8,429 273,428.2 C278.2,427.4 282.2,425.5 288.5,423 C294.8,420.5 303.2,416.5 310.6,413 C318,409.5 325.6,405.5 332.8,402 C340,398.5 344.9,396.5 354,391.8 C363.1,387.1 377.2,379.4 387.5,374 C397.8,368.6 409.6,362.8 416,359.5 C422.4,356.2 423.9,355.5 426,354 C428.1,352.5 428.4,351.8 428.4,350.5 C428.4,349.2 427.3,347.8 426,346.5 C424.7,345.2 425.2,345.1 420.6,343 C416,340.9 407.7,337.7 398.5,334 C389.3,330.3 374.2,324.5 365.3,321 C356.4,317.5 350.6,315 345,313 C339.4,311 335.8,310.1 332,308.8 C328.2,307.5 323.7,305.6 322,305" fill="none" stroke="#9c9c9c" stroke-width="4.4" />
<path d="M222,384.4 C222.3,385.7 223.2,389.4 224,392 C224.8,394.6 224.6,396.5 226.5,400 C228.4,403.5 232.5,409.4 235.4,413 C238.3,416.6 240.3,419.1 244,421.5 C247.7,423.9 252.7,426.5 257.5,427.6 C262.3,428.7 267.8,429 273,428.2 C278.2,427.4 282.2,425.5 288.5,423 C294.8,420.5 303.2,416.5 310.6,413 C318,409.5 325.6,405.5 332.8,402 C340,398.5 344.9,396.5 354,391.8 C363.1,387.1 377.2,379.4 387.5,374 C397.8,368.6 409.6,362.8 416,359.5 C422.4,356.2 423.9,355.5 426,354 C428.1,352.5 428.4,351.8 428.4,350.5 C428.4,349.2 427.3,347.8 426,346.5 C424.7,345.2 425.2,345.1 420.6,343 C416,340.9 407.7,337.7 398.5,334 C389.3,330.3 374.2,324.5 365.3,321 C356.4,317.5 350.6,315 345,313 C339.4,311 335.8,310.1 332,308.8 C328.2,307.5 323.7,305.6 322,305" fill="none" stroke="#222" stroke-width="1.59" />
<path d="M428,351.5 C430,350.2 435.8,346.5 440,344 C444.2,341.5 448.2,338.9 453,336.6 C457.8,334.3 464.3,332.1 468.5,330 C472.7,327.9 476.4,325 478,324" fill="none" stroke="#2b2b2b" stroke-width="1.01" />
<path d="M430,354 C432,352.8 437.8,349.3 442,347 C446.2,344.7 452.8,341.2 455,340" fill="none" stroke="#2b2b2b" stroke-width="1.01" />
<path d="M451.6,336.5 C452.7,337.9 455.8,342.1 458,345 C460.2,347.9 463.8,352.5 465,354" fill="none" stroke="#2b2b2b" stroke-width="1.01" />
<path d="M403,374 C403.8,375 406.5,377.8 408,380 C409.5,382.2 411.2,385.8 411.8,387" fill="none" stroke="#2b2b2b" stroke-width="1.01" />
<path d="M395.5,379.8 C396.6,382.2 400.2,389 402,394 C403.8,399 404.9,404.8 406,410 C407.1,415.2 407.6,420.5 408.8,425 C410,429.5 412.3,435 413,437" fill="none" stroke="#2b2b2b" stroke-width="1.01" />
<path d="M388.6,167.7 L392,166.6 L398.6,176.5 L405,185.4 L406,177.7 L414,174 L419.6,167.7 L424,166.6 L425,172 L424,189.8 L420.7,207.5 L417.4,209.7 L410.8,205 L408.5,212 L403,220.8 L389.7,237.4 L374,255 L372,254 L368.7,245 L358.8,238.5 L352,232 L354,225 L361,216.4 L368.7,200.9 L378.7,183Z" fill="#fff" stroke="#2b2b2b" stroke-width="1.59" />
<path d="M390,171 L381,186 L371,203 L364,217 L357,227 L356,231 L361,236 L370,242 L373,250" fill="none" stroke="#2b2b2b" stroke-width="1.16" />
<path d="M392,170 L404,189 L405,200 L400,215 L388,232 L375,249" fill="none" stroke="#2b2b2b" stroke-width="1.16" />
<path d="M389.7,178.8 L390.8,225" fill="none" stroke="#2b2b2b" stroke-width="1.01" />
<path d="M373,203 L371,247" fill="none" stroke="#2b2b2b" stroke-width="1.01" />
<path d="M376,199 L374,246" fill="none" stroke="#2b2b2b" stroke-width="1.01" />
<path d="M406,178 L407,203 L410.8,205" fill="none" stroke="#2b2b2b" stroke-width="1.16" />
<path d="M414,174 L415,206" fill="none" stroke="#2b2b2b" stroke-width="1.16" />
<path d="M419.6,168 L420,205" fill="none" stroke="#2b2b2b" stroke-width="1.16" />
<path d="M410,186 L420,183" fill="none" stroke="#2b2b2b" stroke-width="1.01" />
<path d="M361,208.6 C358,209.5 348.2,211.6 343,214 C337.8,216.4 334.2,219.7 330,223 C325.8,226.3 321.2,231 318,234 C314.8,237 312.2,239.8 311,241" fill="none" stroke="#222" stroke-width="1.74" />
<path d="M361,211.5 C358.2,212.4 348.8,214.7 344,217 C339.2,219.3 335.8,222.5 332,225.5 C328.2,228.5 324,232.1 321,235 C318,237.9 315.2,241.7 314,243" fill="none" stroke="#2b2b2b" stroke-width="1.45" />
<path d="M283.2,248.2 L281,257 L279.9,268 L275.4,274.7 L283,282 L298.7,294.7 L314,299 L318.6,296.9 L325,293.6 L334,281.4 L335,279 L334,270.3 L310.9,237" fill="#fff" stroke="#2b2b2b" stroke-width="1.3" />
<path d="M281,259 L318.6,296.9" fill="none" stroke="#2b2b2b" stroke-width="1.16" />
<path d="M279.9,268 L314,299" fill="none" stroke="#2b2b2b" stroke-width="1.16" />
<path d="M320.8,290 L318.6,296.9" fill="none" stroke="#2b2b2b" stroke-width="1.16" />
<defs><pattern id="dots" width="2" height="2" patternUnits="userSpaceOnUse" patternTransform="rotate(40)"><rect width="2" height="2" fill="#262626"/><rect width="0.7" height="0.7" fill="#8a8a8a"/></pattern></defs>
<path d="M283.2,248.2 C283.8,246.5 285.5,243.7 287,242 C288.5,240.3 289.5,239.6 292,238.2 C294.5,236.8 299.5,234.4 302,233.8 C304.5,233.2 305.5,234 307,234.5 C308.5,235 308.2,232.9 310.9,237 C313.6,241.1 319.9,253.1 323,259 C326.1,264.9 328.6,269.7 329.7,272.5 C330.8,275.3 330,274.9 329.8,276 C329.6,277.1 330.1,276.7 328.6,279 C327.1,281.3 325.4,291.4 320.8,290 C316.2,288.6 307.1,276.6 300.9,270.3 C294.7,264 286.4,255.7 283.5,252 C280.6,248.3 282.6,249.9 283.2,248.2Z" fill="url(#dots)" stroke="#1a1a1a" stroke-width="1.74" />
<path d="M347.4,239 L335,270 L323,301" fill="none" stroke="#2b2b2b" stroke-width="1.16" />
<path d="M356,243.8 L343,275 L331.9,303.5" fill="none" stroke="#2b2b2b" stroke-width="1.16" />
<path d="M366,243.8 C364.7,247.2 360.6,257.4 358,264 C355.4,270.6 352.8,278.6 350.7,283.6 C348.6,288.6 346.3,291.6 345.5,294 C344.7,296.4 344.9,297.2 346,298 C347.1,298.8 351,298.8 352,299" fill="none" stroke="#2b2b2b" stroke-width="1.3" />
<path d="M371,250 C369.5,253.3 364.7,263.7 362,270 C359.3,276.3 356.7,284 355,288 C353.3,292 352.2,292.3 352,294 C351.8,295.7 352.2,296.8 353.5,298 C354.8,299.2 356.4,299.8 360,301.5 C363.6,303.2 372.5,306.9 375,308" fill="none" stroke="#2b2b2b" stroke-width="1.16" />
<path d="M339.6,214.7 L349,238" fill="none" stroke="#2b2b2b" stroke-width="1.01" />
<path d="M311,241 L347.4,239" fill="none" stroke="#2b2b2b" stroke-width="1.01" />
<path d="M256,298.9 C258.1,292.6 258.5,286.2 259.8,283 C261.1,279.8 262.3,280.2 264,279.5 C265.7,278.8 267,278.2 269.8,278.5 C272.6,278.8 276.2,278.7 281,281.4 C285.8,284.1 292.8,291 298.7,294.7 C304.6,298.4 310.2,300.6 316.4,303.5 C322.6,306.4 330.8,309 336,312 C341.2,315 345.6,317.9 347.8,321.4 C350.1,324.9 350.3,327.2 349.5,333 C348.7,338.8 346.1,347.7 342.8,356 C339.5,364.3 334.5,375.8 329.5,382.8 C324.5,389.8 319.6,394.6 313,398 C306.4,401.4 297.7,405.2 289.7,403.5 C281.7,401.8 272.1,392.2 265,388 C257.9,383.8 251.7,381.9 247,378.5 C242.3,375.1 239.2,371.2 237,367.5 C234.8,363.8 233.8,360.8 234,356.4 C234.2,352 236.2,346.9 238.4,341 C240.6,335.1 244.1,328 247,321 C249.9,314 253.9,305.2 256,298.9Z" fill="#fff" stroke="#2b2b2b" stroke-width="1.45" />
<path d="M277.8,300 C279.2,301.3 282.9,305.7 286,308 C289.1,310.3 291.8,311.7 296.5,313.8 C301.2,315.9 308.9,319.3 314.5,320.7 C320.1,322.1 327.8,321.8 330.4,322" fill="none" stroke="#2b2b2b" stroke-width="1.3" />
<path d="M281.5,300 C282.9,301.2 287.1,305 290,307 C292.9,309 294.9,309.9 299,311.8 C303.1,313.7 309.3,316.8 314.5,318.5 C319.7,320.2 327.8,321.4 330.4,322" fill="none" stroke="#2b2b2b" stroke-width="1.3" />
<g transform="rotate(-33 277 344.3)"><path d="M279,342.6 L293,343 L296.5,344.3 L293,345.6 L279,346Z" fill="#555" stroke="#222" stroke-width="0.8"/><ellipse cx="277" cy="344.3" rx="3.4" ry="4" fill="#777" stroke="#222" stroke-width="1"/><path d="M275.5,342.5 L278.5,346 M278.5,342.5 L275.5,346" stroke="#ddd" stroke-width="0.7"/></g>
<line x1="638.8" y1="300" x2="639.3" y2="413" stroke="#666" stroke-width="0.6" stroke-dasharray="7 2 1.5 2"/>
<line x1="366.5" y1="294" x2="366.5" y2="336" stroke="#666" stroke-width="0.6" stroke-dasharray="7 2 1.5 2"/>
<line x1="356" y1="446" x2="355" y2="498" stroke="#666" stroke-width="0.6" stroke-dasharray="7 2 1.5 2"/>
<line x1="355.5" y1="500" x2="356" y2="555" stroke="#666" stroke-width="0.6" stroke-dasharray="7 2 1.5 2"/>
<line x1="372" y1="306" x2="432" y2="283" stroke="#666" stroke-width="0.6" stroke-dasharray="7 2 1.5 2"/>
<line x1="294" y1="333.5" x2="311" y2="322.5" stroke="#666" stroke-width="0.6" stroke-dasharray="7 2 1.5 2"/>
<path d="M635.6,280.5 L635.6,298 Q638.8,301 642,298 L642,280.5Z" fill="#666" stroke="#2a2a2a" stroke-width="1.1"/>
<path d="M633.8,279.5 L635.1,284.5 L642.5,284.5 L643.8,279.5Z" fill="#eee" stroke="#333" stroke-width="0.9"/>
<ellipse cx="638.8" cy="277.7" rx="8.3" ry="4.6" fill="#fff" stroke="#2a2a2a" stroke-width="1.3"/>
<ellipse cx="638.8" cy="276.5" rx="8.3" ry="4.6" fill="#fff" stroke="#2a2a2a" stroke-width="1.3"/>
<ellipse cx="638.8" cy="276.2" rx="5.8" ry="3" fill="#f4f4f4" stroke="#444" stroke-width="0.8"/>
<path d="M635.8,274.9 L641.8,277.5 M641.8,274.9 L635.8,277.5" stroke="#555" stroke-width="0.8" fill="none"/>
<path d="M363.7,275.5 L363.7,291.5 Q366.5,294.5 369.3,291.5 L369.3,275.5Z" fill="#666" stroke="#2a2a2a" stroke-width="1.1"/>
<path d="M361.5,274.5 L363.2,279.5 L369.8,279.5 L371.5,274.5Z" fill="#eee" stroke="#333" stroke-width="0.9"/>
<ellipse cx="366.5" cy="272.7" rx="8.3" ry="4.6" fill="#fff" stroke="#2a2a2a" stroke-width="1.3"/>
<ellipse cx="366.5" cy="271.5" rx="8.3" ry="4.6" fill="#fff" stroke="#2a2a2a" stroke-width="1.3"/>
<ellipse cx="366.5" cy="271.2" rx="5.8" ry="3" fill="#f4f4f4" stroke="#444" stroke-width="0.8"/>
<path d="M363.5,269.9 L369.5,272.5 M369.5,269.9 L363.5,272.5" stroke="#555" stroke-width="0.8" fill="none"/>
<path d="M353,428.5 L353,444 Q355.5,447 358,444 L358,428.5Z" fill="#666" stroke="#2a2a2a" stroke-width="1.1"/>
<path d="M350.5,427.5 L352.5,432.5 L358.5,432.5 L360.5,427.5Z" fill="#eee" stroke="#333" stroke-width="0.9"/>
<ellipse cx="355.5" cy="425.7" rx="8.3" ry="4.6" fill="#fff" stroke="#2a2a2a" stroke-width="1.3"/>
<ellipse cx="355.5" cy="424.5" rx="8.3" ry="4.6" fill="#fff" stroke="#2a2a2a" stroke-width="1.3"/>
<ellipse cx="355.5" cy="424.2" rx="5.8" ry="3" fill="#f4f4f4" stroke="#444" stroke-width="0.8"/>
<path d="M352.5,422.9 L358.5,425.5 M358.5,422.9 L352.5,425.5" stroke="#555" stroke-width="0.8" fill="none"/>
<ellipse cx="355" cy="497.5" rx="5" ry="2.6" fill="#fff" stroke="#2b2b2b" stroke-width="0.9"/>
<ellipse cx="365" cy="337.5" rx="8.5" ry="6" fill="#fff" stroke="#2b2b2b" stroke-width="1.2"/><ellipse cx="364.5" cy="339" rx="5.5" ry="3.6" fill="#bdbdbd" stroke="#2b2b2b" stroke-width="1.1"/>
<path d="M344.2,560.2 L354.7,554.2 L369,562.2 L369,566.2 L358.2,573.2 L346.2,564.2Z" fill="#fff" stroke="#2b2b2b" stroke-width="1.45" />
<path d="M344.2,560.2 L358.7,569.2 L369,562.2" fill="none" stroke="#2b2b2b" stroke-width="1.3" />
<path d="M358.7,569.2 L358.2,573.2" fill="none" stroke="#2b2b2b" stroke-width="1.3" />
<ellipse cx="355.7" cy="560.7" rx="3.4" ry="2.6" fill="#fff" stroke="#2b2b2b" stroke-width="1"/>
<path d="M626.7,419.2 L637.2,413.2 L651.5,421.2 L651.5,425.2 L640.7,432.2 L628.7,423.2Z" fill="#fff" stroke="#2b2b2b" stroke-width="1.45" />
<path d="M626.7,419.2 L641.2,428.2 L651.5,421.2" fill="none" stroke="#2b2b2b" stroke-width="1.3" />
<path d="M641.2,428.2 L640.7,432.2" fill="none" stroke="#2b2b2b" stroke-width="1.3" />
<ellipse cx="638.2" cy="419.7" rx="3.4" ry="2.6" fill="#fff" stroke="#2b2b2b" stroke-width="1"/>
<path d="M424.5,273.5 L427,272 L441,277 L441,291 L438.5,292.5 L424.5,287.5Z" fill="#fff" stroke="#2b2b2b" stroke-width="1.45" />
<path d="M427,272 L427,286 L441,291" fill="none" stroke="#2b2b2b" stroke-width="1.16" />
<path d="M424.5,287.5 L427,286" fill="none" stroke="#2b2b2b" stroke-width="1.16" />
<ellipse cx="431.5" cy="283" rx="2.6" ry="3" fill="#fff" stroke="#2b2b2b" stroke-width="0.9"/>
<text x="415.6" y="51.2" font-size="23">10</text>
<text x="224.4" y="166.4" font-size="23">5</text>
<text x="398" y="247.1" font-size="23">2</text>
<text x="464.1" y="238.3" font-size="23">4</text>
<text x="641.3" y="236.3" font-size="23">7</text>
<text x="710.2" y="304.9" font-size="23">9</text>
<text x="126.8" y="265.1" font-size="23">11</text>
<text x="106.8" y="319.8" font-size="23">1</text>
<text x="296.4" y="380.1" font-size="23">13</text>
<text x="390.3" y="420.4" font-size="23">8</text>
<text x="697.5" y="427.7" font-size="23">6</text>
<text x="575.6" y="547.8" font-size="23">12</text>
<text x="414.4" y="574" font-size="23">3</text>
<line x1="448" y1="54" x2="505" y2="74" stroke="#3a3a3a" stroke-width="0.8" />
<line x1="236" y1="168" x2="291" y2="238" stroke="#3a3a3a" stroke-width="0.8" />
<line x1="396" y1="254.5" x2="373" y2="267.5" stroke="#3a3a3a" stroke-width="0.8" />
<line x1="469.5" y1="243.5" x2="439" y2="273" stroke="#3a3a3a" stroke-width="0.8" />
<line x1="648.8" y1="241.2" x2="640.5" y2="270" stroke="#3a3a3a" stroke-width="0.8" />
<line x1="706.5" y1="310" x2="672" y2="333" stroke="#3a3a3a" stroke-width="0.8" />
<line x1="149.8" y1="259.3" x2="250.5" y2="317.7" stroke="#3a3a3a" stroke-width="0.8" />
<line x1="117" y1="324.2" x2="145.4" y2="378.5" stroke="#3a3a3a" stroke-width="0.8" />
<line x1="296.8" y1="360" x2="288.2" y2="343" stroke="#3a3a3a" stroke-width="0.8" />
<line x1="388.5" y1="422.5" x2="364.5" y2="426.5" stroke="#3a3a3a" stroke-width="0.8" />
<line x1="652.7" y1="424.6" x2="690.8" y2="424.6" stroke="#3a3a3a" stroke-width="0.8" />
<line x1="370.7" y1="565.7" x2="407.7" y2="565.7" stroke="#3a3a3a" stroke-width="0.8" />
<line x1="568.3" y1="529.5" x2="388" y2="463.5" stroke="#3a3a3a" stroke-width="0.8" />
<line x1="568.3" y1="529.5" x2="487" y2="448" stroke="#3a3a3a" stroke-width="0.8" />
<line x1="568.3" y1="529.5" x2="539.6" y2="431" stroke="#3a3a3a" stroke-width="0.8" />
</svg>
</body></html>
